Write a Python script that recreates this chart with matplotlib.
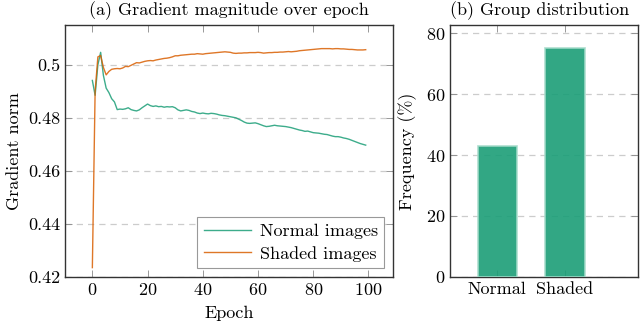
import matplotlib
matplotlib.use('Agg')
import matplotlib.pyplot as plt

plt.rcParams['font.family'] = 'serif'
plt.rcParams['font.serif'] = ['cmr10', 'DejaVu Serif']
plt.rcParams['mathtext.fontset'] = 'cm'
plt.rcParams['axes.formatter.use_mathtext'] = True
plt.rcParams['font.size'] = 13

# gradient norm per epoch
epochs = list(range(100))
normal_grad = [
    0.4941, 0.4885, 0.5000, 0.5047, 0.4960, 0.4912, 0.4895, 0.4872, 0.4860, 0.4831,
    0.4833, 0.4832, 0.4834, 0.4838, 0.4831, 0.4828, 0.4826, 0.4830, 0.4838, 0.4845,
    0.4852, 0.4846, 0.4843, 0.4845, 0.4842, 0.4843, 0.4840, 0.4842, 0.4841, 0.4842,
    0.4838, 0.4830, 0.4826, 0.4828, 0.4830, 0.4828, 0.4824, 0.4822, 0.4818, 0.4816,
    0.4818, 0.4816, 0.4815, 0.4817, 0.4816, 0.4814, 0.4811, 0.4809, 0.4808, 0.4806,
    0.4804, 0.4802, 0.4800, 0.4795, 0.4790, 0.4784, 0.4780, 0.4779, 0.4780, 0.4781,
    0.4778, 0.4774, 0.4770, 0.4767, 0.4768, 0.4770, 0.4772, 0.4770, 0.4769, 0.4768,
    0.4767, 0.4765, 0.4763, 0.4760, 0.4757, 0.4754, 0.4752, 0.4749, 0.4750, 0.4747,
    0.4744, 0.4743, 0.4742, 0.4740, 0.4738, 0.4737, 0.4734, 0.4731, 0.4729, 0.4729,
    0.4727, 0.4724, 0.4722, 0.4719, 0.4715, 0.4711, 0.4707, 0.4703, 0.4700, 0.4697,
]
shaded_grad = [
    0.4235, 0.4900, 0.5030, 0.5035, 0.4990, 0.4962, 0.4975, 0.4983, 0.4985, 0.4986,
    0.4985, 0.4988, 0.4994, 0.4993, 0.4998, 0.5003, 0.5008, 0.5007, 0.5010, 0.5013,
    0.5015, 0.5016, 0.5015, 0.5018, 0.5020, 0.5022, 0.5024, 0.5025, 0.5027, 0.5030,
    0.5034, 0.5034, 0.5036, 0.5037, 0.5038, 0.5039, 0.5040, 0.5040, 0.5042, 0.5041,
    0.5040, 0.5042, 0.5043, 0.5044, 0.5045, 0.5046, 0.5047, 0.5048, 0.5049, 0.5048,
    0.5047, 0.5044, 0.5043, 0.5044, 0.5044, 0.5045, 0.5045, 0.5046, 0.5046, 0.5046,
    0.5047, 0.5046, 0.5044, 0.5045, 0.5046, 0.5046, 0.5047, 0.5047, 0.5048, 0.5048,
    0.5049, 0.5050, 0.5049, 0.5050, 0.5051, 0.5053, 0.5054, 0.5055, 0.5056, 0.5057,
    0.5058, 0.5059, 0.5060, 0.5061, 0.5061, 0.5061, 0.5061, 0.5060, 0.5061, 0.5061,
    0.5060, 0.5060, 0.5059, 0.5058, 0.5058, 0.5057, 0.5056, 0.5056, 0.5056, 0.5057,
]

# group distribution
groups = ['Normal', 'Shaded']
frequency = [43, 75]

green = '#1b9e77'
orange = '#d95f02'

fig = plt.figure(figsize=(6.4, 3.25), dpi=100)
ax1 = fig.add_axes([0.1016, 0.148, 0.5125, 0.775])
ax2 = fig.add_axes([0.703, 0.148, 0.294, 0.775])

ax1.plot(epochs, normal_grad, color=green, alpha=0.85, lw=1.0, label='Normal images')
ax1.plot(epochs, shaded_grad, color=orange, alpha=0.85, lw=1.0, label='Shaded images')
ax1.set_xlim(-9.9, 108.9)
ax1.set_ylim(0.42, 0.515)
ax1.set_xticks([0, 20, 40, 60, 80, 100])
ax1.set_yticks([0.42, 0.44, 0.46, 0.48, 0.5])
ax1.set_yticklabels(['0.42', '0.44', '0.46', '0.48', '0.5'])
ax1.set_xlabel('Epoch', labelpad=6)
ax1.set_ylabel('Gradient norm', labelpad=4)
ax1.set_title('(a) Gradient magnitude over epoch', pad=7, fontsize=13)
leg = ax1.legend(loc='lower right', fancybox=False, framealpha=1,
                 edgecolor='#999999', handlelength=2.6, borderpad=0.35,
                 labelspacing=0.35, handletextpad=0.5, borderaxespad=0.5)
leg.get_frame().set_linewidth(0.8)

ax2.bar(range(len(groups)), frequency, width=0.58, color=green, alpha=0.9,
        edgecolor='#a6dccb', linewidth=1.2, zorder=3)
ax2.set_xlim(-0.70, 2.08)
ax2.set_ylim(0, 82.7)
ax2.set_xticks(range(len(groups)))
ax2.set_xticklabels(groups)
ax2.set_yticks([0, 20, 40, 60, 80])
ax2.set_ylabel('Frequency (%)', labelpad=6)
ax2.set_title('(b) Group distribution', pad=7, loc='left', fontsize=13)

for ax in (ax1, ax2):
    ax.yaxis.grid(True, linestyle=(0, (5, 4)), color='#cccccc', lw=0.9)
    ax.set_axisbelow(True)
    ax.tick_params(direction='in', top=True, right=True, length=5,
                   width=0.6, color='#888888', labelcolor='black')
    for s in ax.spines.values():
        s.set_color('#333333')
        s.set_linewidth(1.0)

fig.savefig('out.png', dpi=100)
